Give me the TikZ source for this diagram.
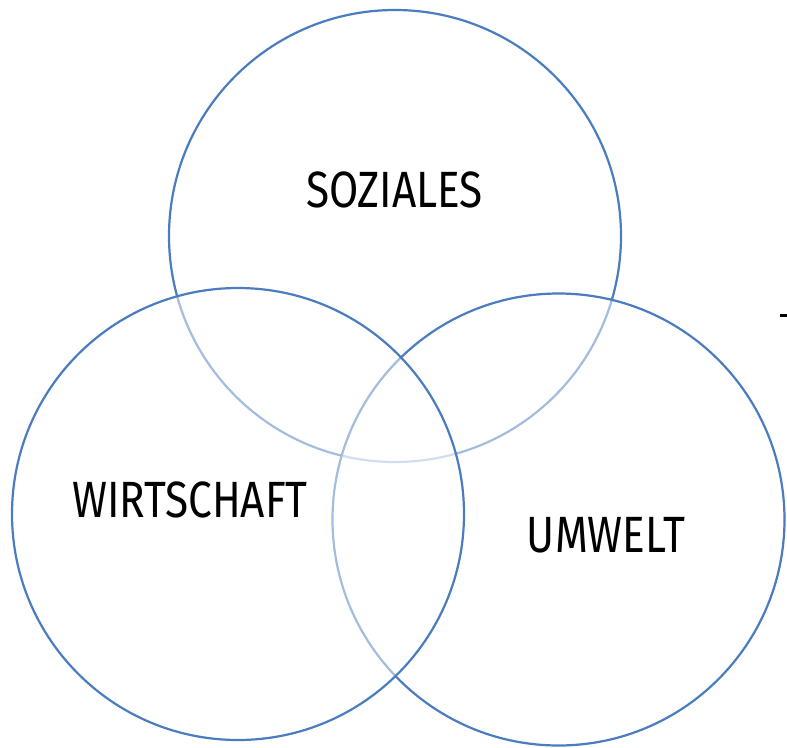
\documentclass[tikz,border=0pt]{standalone}
\usepackage{fontspec}
\setmainfont[FakeStretch=0.83]{Fira Sans}
\usepackage{xcolor}
\definecolor{ringblue}{RGB}{74,124,191}

\begin{document}
\begin{tikzpicture}[x=1pt,y=-1pt,
  ring/.style={circle, draw=ringblue, line width=2.2pt, fill=white, fill opacity=0.5,
    minimum size=452pt, inner sep=0pt},
  lbl/.style={anchor=base, font=\fontsize{51}{56}\selectfont}]
\useasboundingbox (0,0) rectangle (787,747);
% drawing order sets which arcs are faded
\node[ring] (soz) at (395,236) {};
\node[ring] (umw) at (558.5,519.5) {};
\node[ring] (wir) at (238,514) {};
\node[lbl] (tsoz) at (394.5,207) {SOZIALES};
\node[lbl] (twir) at (190,517) {WIRTSCHAFT};
\node[lbl] (tumw) at (606,552) {UMWELT};
\draw[line width=2.6pt] (780,315.5) -- (787,315.5);
\end{tikzpicture}
\end{document}
